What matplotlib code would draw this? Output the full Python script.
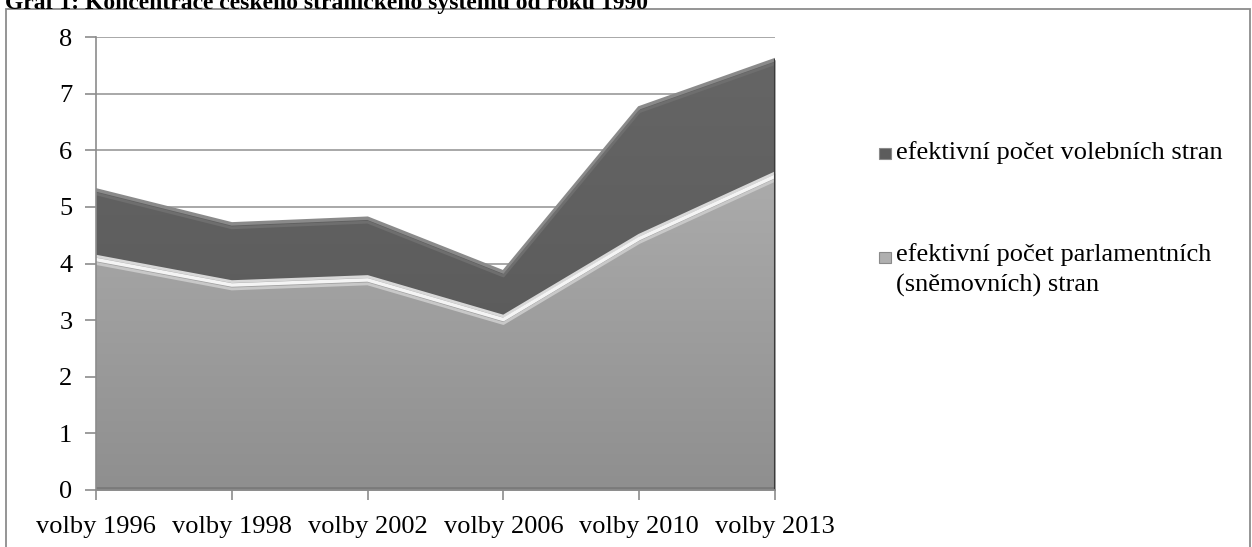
import numpy as np
import matplotlib.pyplot as plt
import matplotlib.patches as mpatches

plt.rcParams['font.family'] = ['Liberation Serif', 'DejaVu Serif']

years = ['volby 1996', 'volby 1998', 'volby 2002', 'volby 2006', 'volby 2010', 'volby 2013']
volebni = [5.3, 4.7, 4.8, 3.85, 6.75, 7.6]
parlamentni = [4.13, 3.68, 3.77, 3.07, 4.5, 5.6]
labels = ['efektivní počet volebních stran', 'efektivní počet parlamentních\n(sněmovních) stran']
title = 'Graf 1: Koncentrace českého stranického systému od roku 1990'

W, H = 1252, 547
fig = plt.figure(figsize=(W / 100, H / 100), dpi=100)
ax = fig.add_axes([96 / W, 1 - 490 / H, (775 - 96) / W, (490 - 37) / H])

x = np.arange(len(years))


def gradient_area(ax, y, top_col, bot_col, z):
    poly = ax.fill_between(x, 0, y, color=bot_col, lw=0, zorder=z)
    g = np.linspace(0, 1, 256).reshape(-1, 1)
    c0 = np.array(top_col)
    c1 = np.array(bot_col)
    img = c0[None, None, :] * (1 - g[:, :, None]) + c1[None, None, :] * g[:, :, None]
    im = ax.imshow(img, extent=[0, 5, 0, 8], aspect='auto', origin='upper', zorder=z + 0.1,
                   interpolation='bilinear')
    im.set_clip_path(poly.get_paths()[0], transform=ax.transData)
    return poly


# dark area (behind)
gradient_area(ax, volebni, (0.40, 0.40, 0.40), (0.34, 0.34, 0.34), 2)
ax.plot(x, volebni, color='#8a8a8a', lw=2.5, zorder=2.5, solid_joinstyle='miter')
ax.plot(x, np.array(volebni) - 0.07, color='#6e6e6e', lw=2, zorder=2.5)

# light area (front)
gradient_area(ax, parlamentni, (0.72, 0.72, 0.72), (0.56, 0.56, 0.56), 3)
ax.plot(x, parlamentni, color='#d8d8d8', lw=2, zorder=3.5)
ax.plot(x, np.array(parlamentni) - 0.06, color='#f4f4f4', lw=2.5, zorder=3.5)
ax.plot(x, np.array(parlamentni) - 0.13, color='#c8c8c8', lw=2, zorder=3.5)
ax.plot([0, 5], [0.04, 0.04], color='#7a7a7a', lw=2, zorder=3.6)
ax.plot([5, 5], [0, volebni[-1]], color='#3a3a3a', lw=1.5, zorder=3.6)

ax.set_xlim(0, 5)
ax.set_ylim(0, 8)
ax.set_yticks(range(0, 9))
ax.set_xticks(x)
ax.set_xticklabels(years)
ax.yaxis.grid(True, color='#9a9a9a', lw=1.2, zorder=0)
ax.set_axisbelow(True)
for s in ['top', 'right']:
    ax.spines[s].set_visible(False)
for s in ['left', 'bottom']:
    ax.spines[s].set_color('#8c8c8c')
    ax.spines[s].set_linewidth(1.2)
    ax.spines[s].set_zorder(5)
ax.tick_params(axis='y', length=8, width=1.2, color='#8c8c8c', labelsize=19, pad=9)
ax.tick_params(axis='x', length=7, width=1.2, color='#8c8c8c', labelsize=19, pad=12)

# outer chart border
fig.patches.append(mpatches.Rectangle((6 / W, -0.1), (1250 - 6) / W, 1.1 - 9 / H,
                                      transform=fig.transFigure, fill=False,
                                      edgecolor='#8c8c8c', lw=1.3))

# title, partly cut off at top as in the source page
fig.text(5 / W, 1 - 4 / H, title, fontsize=17, fontweight='bold', va='center', ha='left')

# legend
fig.patches.append(mpatches.Rectangle((879 / W, 1 - 159 / H), 12 / W, 11 / H,
                                      transform=fig.transFigure, facecolor='#5c5c5c',
                                      edgecolor='#8a8a8a', lw=0.8))
fig.text(896 / W, 1 - 153 / H, labels[0], fontsize=19, va='center', ha='left')
fig.patches.append(mpatches.Rectangle((879 / W, 1 - 263 / H), 12 / W, 11 / H,
                                      transform=fig.transFigure, facecolor='#b0b0b0',
                                      edgecolor='#8a8a8a', lw=0.8))
fig.text(896 / W, 1 - 243 / H, labels[1], fontsize=19, va='top', ha='left', linespacing=1.45)

fig.savefig('out.png', dpi=100)
